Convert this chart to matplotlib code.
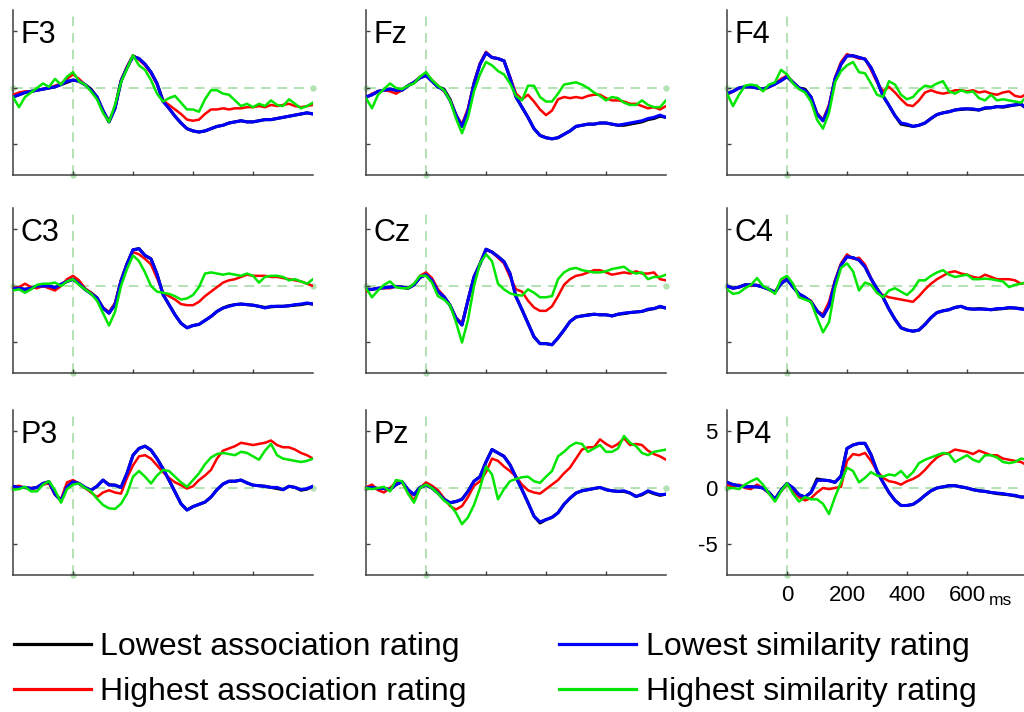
import numpy as np
import matplotlib.pyplot as plt
from matplotlib.lines import Line2D

plt.rcParams['font.family'] = ['Liberation Sans', 'DejaVu Sans']
plt.rcParams['axes.unicode_minus'] = False

# time axis (ms), one sample every 20 ms
times = np.arange(-200, 801, 20)

# ---- F3 ----
f3_black = [-0.8,-0.6,-0.4,-0.3,-0.2,-0.1,0.0,0.1,0.3,0.5,0.7,0.6,0.3,-0.1,-0.8,-2.0,-3.0,-1.8,0.6,1.8,2.8,2.6,2.1,1.4,0.4,-1.1,-1.8,-2.5,-3.1,-3.6,-3.8,-3.9,-3.8,-3.6,-3.4,-3.3,-3.1,-3.0,-2.9,-3.0,-3.0,-2.9,-2.8,-2.8,-2.7,-2.6,-2.5,-2.4,-2.3,-2.2,-2.3]
f3_red = [-0.6,-0.4,-0.3,-0.3,-0.2,-0.1,0.0,0.2,0.4,0.8,1.2,0.8,0.3,-0.2,-0.9,-2.0,-3.0,-1.7,0.7,1.9,2.9,2.5,2.0,1.3,0.3,-1.1,-1.5,-1.9,-2.3,-2.8,-2.9,-2.8,-2.3,-1.9,-1.9,-1.8,-1.9,-1.8,-1.8,-1.7,-1.7,-1.6,-1.7,-1.5,-1.6,-1.5,-1.4,-1.6,-1.7,-1.6,-1.5]
f3_blue = [-0.8,-0.6,-0.4,-0.3,-0.2,-0.1,0.0,0.1,0.3,0.6,0.7,0.6,0.3,-0.2,-0.8,-2.0,-3.0,-1.8,0.6,1.8,2.8,2.6,2.1,1.4,0.4,-1.2,-1.8,-2.5,-3.1,-3.6,-3.8,-3.9,-3.8,-3.6,-3.4,-3.3,-3.1,-3.0,-2.9,-3.0,-3.0,-2.9,-2.8,-2.8,-2.7,-2.6,-2.5,-2.4,-2.3,-2.2,-2.3]
f3_green = [-0.8,-1.7,-0.8,-0.4,0.0,0.4,0.1,0.8,0.3,1.0,1.4,0.6,0.3,-0.3,-1.0,-2.2,-3.0,-1.5,0.5,1.7,2.9,2.0,1.6,0.7,-0.5,-1.2,-0.9,-0.7,-1.3,-1.9,-1.9,-2.1,-1.0,-0.2,-0.2,-0.5,-0.6,-1.1,-1.6,-1.4,-1.7,-1.4,-1.6,-1.1,-1.5,-1.6,-1.0,-1.4,-1.8,-1.6,-1.3]

# ---- Fz ----
fz_black = [-0.8,-0.6,-0.3,-0.2,-0.1,-0.2,-0.2,0.2,0.5,0.9,1.1,0.6,0.1,-0.1,-1.0,-2.4,-3.4,-2.0,0.4,2.1,3.1,2.7,2.6,2.4,0.9,-0.8,-1.7,-2.6,-3.6,-4.2,-4.4,-4.5,-4.4,-4.1,-3.8,-3.4,-3.3,-3.2,-3.2,-3.1,-3.1,-3.2,-3.3,-3.3,-3.2,-3.1,-3.0,-2.8,-2.7,-2.5,-2.6]
fz_red = [-0.9,-0.5,-0.3,-0.2,-0.3,-0.5,-0.2,0.2,0.5,1.0,1.2,0.7,0.2,-0.3,-1.0,-2.4,-3.2,-1.8,0.5,2.2,3.2,2.7,2.6,2.4,1.0,-0.5,-1.0,-0.6,-1.2,-1.9,-2.4,-2.0,-1.0,-0.8,-0.9,-0.8,-0.9,-0.7,-0.6,-0.6,-0.9,-1.1,-1.1,-1.2,-1.4,-1.4,-1.6,-1.8,-1.7,-1.9,-1.6]
fz_blue = [-0.8,-0.6,-0.3,-0.2,-0.1,-0.2,-0.2,0.2,0.5,0.9,1.1,0.6,0.1,-0.2,-1.1,-2.4,-3.4,-2.0,0.4,2.1,3.1,2.7,2.6,2.4,0.9,-0.8,-1.7,-2.6,-3.6,-4.2,-4.4,-4.5,-4.4,-4.1,-3.8,-3.4,-3.3,-3.2,-3.2,-3.1,-3.1,-3.2,-3.3,-3.2,-3.1,-3.0,-2.9,-2.7,-2.6,-2.4,-2.6]
fz_green = [-0.9,-1.8,-0.6,-0.1,0.4,0.0,-0.1,0.2,0.4,1.0,1.4,0.7,0.2,-0.2,-1.1,-2.7,-4.0,-2.6,-0.3,1.2,2.3,2.0,1.5,1.2,0.4,-0.7,-1.1,0.2,0.2,-0.8,-1.2,-1.2,-0.5,0.3,0.4,0.5,0.3,0.0,-0.4,-0.7,-1.1,-0.8,-0.9,-1.3,-1.5,-1.5,-1.1,-1.5,-1.7,-1.7,-1.1]

# ---- F4 ----
f4_black = [-0.5,-0.3,0.0,0.1,0.1,0.0,-0.1,0.1,0.35,0.65,1.0,0.5,0.0,-0.1,-0.8,-2.3,-2.9,-1.7,0.8,2.1,2.85,2.85,2.7,2.55,1.8,0.65,-0.7,-1.55,-2.45,-3.2,-3.3,-3.4,-3.3,-3.1,-2.7,-2.35,-2.2,-2.1,-1.95,-1.9,-1.85,-1.9,-1.95,-1.8,-1.75,-1.65,-1.7,-1.6,-1.5,-1.45,-1.85]
f4_red = [-0.6,-0.3,0.0,0.1,0.1,0.1,-0.2,0.1,0.4,0.8,1.1,0.5,0.0,-0.3,-0.9,-2.2,-2.8,-1.5,0.9,2.3,3.0,2.8,2.6,2.6,1.6,0.5,-0.3,0.1,-0.4,-1.0,-1.5,-1.6,-1.1,-0.4,-0.2,-0.4,-0.5,-0.4,-0.2,-0.2,-0.3,-0.2,-0.4,-0.3,-0.5,-0.6,-0.4,-0.3,-0.7,-0.8,-0.5]
f4_blue = [-0.5,-0.3,0.0,0.1,0.1,0.0,-0.1,0.1,0.35,0.65,1.0,0.5,0.0,-0.2,-0.8,-2.3,-2.9,-1.7,0.8,2.1,2.85,2.85,2.7,2.55,1.8,0.65,-0.7,-1.55,-2.45,-3.1,-3.2,-3.4,-3.3,-3.1,-2.7,-2.35,-2.2,-2.1,-1.95,-1.85,-1.85,-1.85,-1.95,-1.75,-1.75,-1.65,-1.65,-1.55,-1.5,-1.4,-1.85]
f4_green = [-0.5,-1.6,-0.6,0.2,0.3,0.2,-0.3,0.3,0.5,1.6,1.2,0.4,-0.1,-0.4,-1.2,-2.8,-3.6,-2.2,0.5,1.5,2.0,2.3,1.4,1.3,0.4,-0.6,-0.8,0.6,0.3,-0.6,-1.0,-0.8,-0.2,0.2,0.1,0.4,0.6,-0.3,-0.5,-0.2,-0.4,-0.3,-0.9,-1.1,-0.6,-1.1,-1.0,-1.1,-1.2,-1.3,-0.7]

# ---- C3 ----
c3_black = [-0.25,-0.2,-0.3,-0.2,0.0,0.0,0.0,-0.15,0.15,0.4,0.6,0.2,-0.3,-0.6,-1.05,-1.95,-2.4,-1.65,0.45,1.95,3.2,3.3,2.7,2.4,1.05,-0.75,-1.65,-2.55,-3.3,-3.7,-3.5,-3.4,-3.05,-2.7,-2.25,-1.95,-1.75,-1.65,-1.6,-1.65,-1.7,-1.8,-1.9,-1.85,-1.8,-1.8,-1.75,-1.7,-1.65,-1.55,-1.6]
c3_red = [-0.2,-0.1,0.2,-0.1,-0.2,0.0,-0.2,-0.4,0.0,0.6,0.9,0.5,-0.2,-0.6,-1.1,-1.9,-2.3,-1.5,0.5,2.0,3.0,2.8,2.4,1.9,0.7,-0.6,-0.9,-1.2,-1.6,-1.7,-1.7,-1.4,-0.9,-0.5,-0.1,0.3,0.5,0.6,0.8,1.0,0.9,0.9,0.9,0.8,0.8,0.7,0.6,0.5,0.4,0.2,0.0]
c3_blue = [-0.25,-0.2,-0.3,-0.2,0.0,0.0,0.0,-0.15,0.15,0.4,0.6,0.2,-0.3,-0.7,-1.05,-1.95,-2.4,-1.65,0.45,1.95,3.2,3.3,2.7,2.4,1.05,-0.75,-1.65,-2.55,-3.3,-3.7,-3.5,-3.4,-3.05,-2.7,-2.25,-1.95,-1.8,-1.65,-1.6,-1.65,-1.7,-1.8,-1.95,-1.8,-1.8,-1.8,-1.75,-1.65,-1.6,-1.5,-1.6]
c3_green = [-0.4,-0.3,-0.6,-0.3,0.1,0.2,0.2,0.3,0.0,0.4,0.6,0.1,-0.3,-0.7,-1.3,-2.4,-3.5,-2.3,0.0,1.5,2.7,2.2,1.2,0.0,-0.5,-0.6,-0.7,-0.9,-1.2,-1.1,-0.8,-0.1,1.1,1.2,1.1,1.0,1.1,1.0,0.9,1.1,0.9,0.3,0.8,0.9,0.9,0.8,0.5,0.6,0.4,0.2,0.6]

# ---- Cz ----
cz_black = [-0.3,-0.3,-0.2,-0.15,-0.1,-0.05,-0.1,-0.2,0.1,0.75,1.0,0.5,-0.5,-0.95,-1.7,-2.85,-3.45,-1.25,0.8,1.95,3.25,3.0,2.6,2.15,1.1,-0.95,-2.1,-3.3,-4.5,-5.1,-5.1,-5.2,-4.6,-3.9,-3.15,-2.75,-2.65,-2.55,-2.5,-2.55,-2.55,-2.65,-2.5,-2.45,-2.35,-2.3,-2.25,-2.1,-2.0,-1.85,-1.95]
cz_red = [-0.5,-0.3,-0.2,-0.2,-0.2,0.0,-0.1,-0.2,0.1,0.9,1.2,0.7,-0.3,-0.9,-1.7,-2.8,-3.3,-1.3,0.8,2.0,3.2,3.0,2.5,2.0,0.8,-0.3,-0.5,-1.3,-1.9,-2.2,-2.2,-1.8,-0.9,0.1,0.6,0.9,1.0,1.2,1.4,1.4,1.2,1.0,1.1,1.2,1.1,1.3,1.1,1.1,1.2,0.6,0.5]
cz_blue = [-0.3,-0.3,-0.2,-0.15,-0.1,-0.05,-0.1,-0.2,0.1,0.75,1.0,0.5,-0.5,-0.95,-1.7,-2.85,-3.45,-1.25,0.8,1.95,3.25,3.0,2.6,2.15,1.1,-0.95,-2.1,-3.3,-4.5,-5.1,-5.1,-5.2,-4.6,-3.9,-3.15,-2.75,-2.65,-2.6,-2.5,-2.55,-2.55,-2.65,-2.5,-2.4,-2.35,-2.3,-2.25,-2.05,-2.0,-1.8,-1.95]
cz_green = [-0.2,-1.0,-0.4,0.1,0.4,-0.1,-0.2,-0.2,0.2,0.9,0.9,0.3,-0.9,-1.2,-1.7,-3.2,-5.0,-3.0,0.0,2.0,2.8,2.2,0.2,-0.3,-0.65,-0.8,-0.85,-0.3,-0.6,-1.0,-1.0,-0.9,0.6,1.2,1.5,1.6,1.4,1.3,1.2,1.2,1.3,1.5,1.6,1.7,1.3,1.1,1.2,0.6,0.8,0.8,1.0]

# ---- C4 ----
c4_black = [0.0,-0.2,-0.1,0.1,0.1,0.05,-0.1,-0.3,-0.55,0.2,0.6,-0.1,-0.7,-1.0,-1.4,-2.2,-2.7,-1.75,0.35,1.85,2.6,2.5,2.3,1.7,0.65,-0.25,-1.0,-2.05,-2.95,-3.7,-3.9,-4.0,-3.9,-3.4,-2.8,-2.35,-2.2,-2.1,-1.9,-1.8,-2.0,-2.05,-2.0,-2.05,-2.1,-2.05,-2.0,-1.95,-1.95,-2.0,-2.1]
c4_red = [0.0,-0.2,-0.1,0.1,0.0,0.1,-0.1,-0.3,-0.5,0.3,0.7,0.0,-0.8,-1.1,-1.3,-2.2,-2.5,-1.4,0.5,2.0,2.8,2.4,2.5,1.9,0.7,-0.6,-0.8,-1.0,-1.1,-1.2,-1.3,-1.4,-0.9,-0.3,0.2,0.6,0.9,1.2,1.3,1.1,1.0,0.8,0.7,1.0,0.8,0.6,0.6,0.6,0.5,0.2,0.3]
c4_blue = [0.0,-0.2,-0.1,0.1,0.1,0.05,-0.1,-0.3,-0.55,0.2,0.6,-0.1,-0.7,-1.0,-1.4,-2.2,-2.7,-1.75,0.35,1.85,2.6,2.5,2.3,1.7,0.65,-0.25,-1.0,-2.05,-2.95,-3.7,-3.9,-4.0,-3.9,-3.4,-2.8,-2.35,-2.2,-2.1,-1.9,-1.8,-2.0,-2.05,-2.05,-2.05,-2.1,-2.0,-2.0,-1.9,-1.95,-2.05,-2.1]
c4_green = [-0.3,-0.7,-0.6,-0.2,0.1,0.7,0.0,-0.3,-0.7,0.6,0.9,0.2,-1.0,-1.2,-1.4,-2.8,-4.1,-3.2,-0.2,1.6,2.0,1.3,-0.4,0.3,0.1,-0.6,-1.0,-0.4,-0.2,-0.5,-0.8,-0.3,0.5,0.5,0.9,1.2,1.4,1.0,0.8,0.9,1.0,0.6,0.6,0.65,0.6,0.5,0.4,-0.1,0.1,0.2,0.35]

# ---- P3 ----
p3_black = [0.15,0.05,0.05,-0.05,0.05,0.4,0.55,-0.55,-1.1,0.1,0.55,0.4,0.05,-0.2,0.15,0.7,0.3,0.25,0.05,1.3,2.9,3.5,3.7,3.35,2.6,1.7,0.7,-0.35,-1.4,-1.95,-1.65,-1.45,-1.25,-0.8,-0.15,0.35,0.6,0.6,0.7,0.45,0.25,0.2,0.15,0.05,-0.05,-0.15,0.15,0.05,-0.2,-0.1,0.15]
p3_red = [0.1,0.2,0.0,0.0,0.0,0.3,0.4,-0.6,-1.0,0.5,0.7,0.4,0.0,-0.4,-0.8,-0.4,-0.2,-0.4,-0.5,0.9,2.0,2.8,2.9,2.6,2.0,1.4,0.9,0.5,0.25,-0.05,0.15,0.7,1.1,1.6,2.6,3.3,3.5,3.7,4.0,3.9,3.8,3.9,4.0,4.2,3.8,3.6,3.6,3.4,3.1,2.9,2.6]
p3_blue = [0.15,0.05,0.05,-0.05,0.05,0.4,0.55,-0.55,-1.1,0.1,0.55,0.4,0.05,-0.2,0.15,0.7,0.25,0.25,0.05,1.3,2.9,3.5,3.7,3.35,2.6,1.7,0.7,-0.35,-1.4,-1.95,-1.65,-1.45,-1.25,-0.8,-0.15,0.35,0.6,0.6,0.7,0.45,0.25,0.2,0.15,0.05,0.05,-0.15,0.15,0.05,-0.15,-0.05,0.15]
p3_green = [-0.15,-0.1,0.1,-0.3,-0.3,0.3,0.6,-0.2,-1.3,-0.1,0.3,0.4,0.0,-0.3,-0.95,-1.5,-1.8,-1.85,-1.4,-0.5,1.0,1.5,1.0,0.4,1.1,1.6,1.5,1.0,0.5,0.1,0.7,1.3,2.1,2.7,3.0,3.1,3.0,2.9,3.2,3.1,2.8,2.5,3.3,3.9,2.9,2.6,2.5,2.4,2.3,2.4,2.6]

# ---- Pz ----
pz_black = [0.0,0.05,-0.05,-0.05,-0.15,0.3,0.55,-0.15,-0.6,0.05,0.25,0.0,-0.45,-1.0,-1.3,-1.2,-1.0,-0.3,0.6,1.0,2.3,3.4,3.1,2.8,2.05,0.95,-0.15,-1.3,-2.5,-3.1,-2.8,-2.6,-2.2,-1.45,-0.9,-0.45,-0.25,-0.15,-0.05,0.05,-0.15,-0.25,-0.3,-0.3,-0.45,-0.75,-0.6,-0.3,-0.5,-0.65,-0.55]
pz_red = [0.05,0.3,-0.2,-0.4,0.0,0.5,0.5,-0.4,-1.1,0.0,0.5,0.2,-0.2,-0.9,-1.6,-1.9,-1.6,-0.8,0.2,0.6,1.4,2.6,2.4,1.9,1.5,1.0,0.3,-0.2,-0.4,-0.5,-0.1,0.3,0.7,1.3,1.8,2.6,3.4,3.6,3.6,4.3,3.9,3.6,3.9,4.4,3.8,3.9,3.8,3.3,3.0,2.8,2.5]
pz_blue = [0.0,0.05,-0.05,-0.05,-0.15,0.3,0.55,-0.15,-0.6,0.05,0.25,0.0,-0.45,-1.0,-1.3,-1.2,-1.0,-0.3,0.6,1.0,2.3,3.4,3.1,2.8,2.05,0.95,-0.15,-1.3,-2.5,-3.0,-2.8,-2.6,-2.2,-1.45,-0.9,-0.45,-0.25,-0.15,-0.05,0.05,-0.15,-0.25,-0.3,-0.25,-0.45,-0.75,-0.55,-0.25,-0.45,-0.6,-0.55]
pz_green = [0.0,-0.1,0.0,0.1,-0.3,0.7,0.6,-0.5,-1.3,0.0,0.3,0.0,-0.5,-1.1,-1.5,-2.2,-3.2,-2.6,-1.5,0.0,1.9,1.2,-1.0,-0.1,0.6,0.8,0.95,1.0,0.6,0.45,1.0,1.5,2.8,3.2,3.7,4.0,3.9,3.2,3.5,3.8,3.2,3.2,3.5,4.6,4.0,3.7,3.1,2.9,3.2,3.3,3.4]

# ---- P4 ----
p4_black = [0.5,0.3,0.2,0.1,0.1,0.1,0.0,-0.4,-1.0,-0.2,0.4,0.0,-0.6,-0.8,-0.4,0.8,0.7,0.65,0.5,1.05,3.5,3.8,3.95,3.95,2.95,1.5,0.5,-0.4,-1.1,-1.55,-1.55,-1.45,-1.1,-0.65,-0.25,0.0,0.1,0.2,0.2,0.1,0.0,-0.15,-0.25,-0.3,-0.4,-0.5,-0.55,-0.6,-0.7,-0.8,-0.8]
p4_red = [0.3,0.1,0.3,0.0,-0.1,0.3,0.0,-0.5,-1.0,-0.3,0.3,-0.2,-0.8,-1.1,-0.9,-0.4,0.0,-0.1,0.0,0.1,2.4,3.0,2.9,3.1,2.4,1.5,0.9,0.6,0.5,0.3,0.6,0.8,1.1,1.6,2.2,2.7,3.0,3.1,3.4,3.3,3.2,3.0,3.3,3.1,2.9,2.9,2.6,2.5,2.4,2.3,2.0]
p4_blue = [0.5,0.3,0.2,0.1,0.1,0.1,0.0,-0.4,-1.0,-0.2,0.4,0.0,-0.6,-0.8,-0.4,0.65,0.7,0.65,0.5,1.05,3.5,3.8,3.95,3.95,2.95,1.5,0.5,-0.4,-1.1,-1.55,-1.55,-1.45,-1.1,-0.65,-0.25,0.0,0.1,0.2,0.2,0.1,0.0,-0.15,-0.25,-0.3,-0.4,-0.45,-0.5,-0.6,-0.65,-0.8,-0.8]
p4_green = [0.0,0.0,-0.1,0.3,0.6,0.85,0.3,-0.5,-1.2,-0.3,0.4,-0.5,-1.2,-0.8,-1.0,-1.0,-1.4,-2.3,-0.8,0.5,1.8,1.5,0.5,0.9,1.4,1.1,1.0,1.2,1.1,1.5,0.9,1.4,2.2,2.5,2.7,2.9,3.1,3.0,2.3,2.6,2.9,2.5,2.3,2.9,2.9,2.7,2.3,2.2,2.3,2.6,2.5]

panels = [
    ('F3', f3_black, f3_red, f3_blue, f3_green),
    ('Fz', fz_black, fz_red, fz_blue, fz_green),
    ('F4', f4_black, f4_red, f4_blue, f4_green),
    ('C3', c3_black, c3_red, c3_blue, c3_green),
    ('Cz', cz_black, cz_red, cz_blue, cz_green),
    ('C4', c4_black, c4_red, c4_blue, c4_green),
    ('P3', p3_black, p3_red, p3_blue, p3_green),
    ('Pz', pz_black, pz_red, pz_blue, pz_green),
    ('P4', p4_black, p4_red, p4_blue, p4_green),
]

series_names = ['Lowest association rating', 'Highest association rating',
                'Lowest similarity rating', 'Highest similarity rating']
series_colors = ['black', 'red', 'blue', '#00e600']
series_lw = [2.2, 1.8, 2.2, 1.8]

guide = '#b2e2b2'
axis_col = '#404040'
ylo, yhi = -7.7, 6.9

# panel placement in pixels
W, H = 1024, 712
col_left = [13, 366, 727]
row_top = [10, 208, 410]
ax_w, ax_h = 300, 165

fig = plt.figure(figsize=(W / 100, H / 100), dpi=100)

for i, (name, *curves) in enumerate(panels):
    r, c = divmod(i, 3)
    ax = fig.add_axes([col_left[c] / W, 1 - (row_top[r] + ax_h) / H, ax_w / W, ax_h / H])

    # zero reference lines
    ax.axhline(0, color=guide, lw=1.4, ls=(0, (5, 3.5)), zorder=1)
    ax.axvline(0, color=guide, lw=1.4, ls=(0, (5, 3.5)), zorder=1)
    ax.plot([-200, 800], [0, 0], 'o', ms=3.5, color=guide, clip_on=False, zorder=1)
    ax.plot([0], [ylo], 'o', ms=3.5, color=guide, clip_on=False, zorder=1)

    for vals, col, lw in zip(curves, series_colors, series_lw):
        ax.plot(times, vals, color=col, lw=lw, zorder=3)

    ax.set_xlim(-200, 800)
    ax.set_ylim(ylo, yhi)
    ax.set_xticks([0, 200, 400, 600])
    ax.set_yticks([-5, 0, 5])
    for s in ['top', 'right']:
        ax.spines[s].set_visible(False)
    for s in ['left', 'bottom']:
        ax.spines[s].set_color(axis_col)
        ax.spines[s].set_linewidth(1.1)
    ax.tick_params(direction='in', length=3, width=1, color=axis_col,
                   labelsize=16, pad=7)

    if name == 'P4':
        ax.annotate('ms', xy=(673, 0), xycoords=('data', 'axes fraction'),
                    xytext=(0, -21.5), textcoords='offset points',
                    ha='left', va='baseline', fontsize=12.5)
    else:
        ax.tick_params(labelleft=False, labelbottom=False)

    ax.annotate(name, xy=(0, 1), xycoords='axes fraction', xytext=(5.5, -7),
                textcoords='offset points', ha='left', va='top', fontsize=22)

handles = [Line2D([], [], color=col, lw=2.3) for col in series_colors]
fig.legend(handles, series_names, ncol=2, loc='upper left',
           bbox_to_anchor=(14 / W, 1 - 632 / H), frameon=False, fontsize=23,
           handlelength=2.4, handletextpad=0.3, columnspacing=2.9,
           labelspacing=0.48, borderpad=0, borderaxespad=0)

fig.savefig('out.png', dpi=100)
